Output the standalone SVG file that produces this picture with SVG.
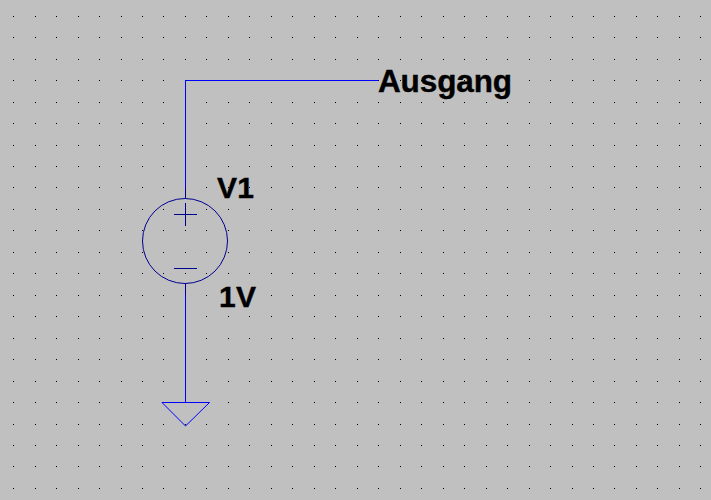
<svg xmlns="http://www.w3.org/2000/svg" width="711" height="500" viewBox="0 0 711 500">
<style>
.wire{fill:none;stroke:#0000ff;stroke-width:1;shape-rendering:crispEdges}
.sym{fill:none;stroke:#000090;stroke-width:1}
.crisp{shape-rendering:crispEdges}
.gnd{fill:none;stroke:#0000ff;stroke-width:1}
text{font-family:"Liberation Sans",Arial,sans-serif;font-weight:bold;font-size:30px;fill:#000;stroke:#000;stroke-width:.4}
</style>
<defs>
<path id="row" class="crisp" fill="#000" d="M13 16h1v1h-1zM35 16h1v1h-1zM56 16h1v1h-1zM78 16h1v1h-1zM99 16h1v1h-1zM121 16h1v1h-1zM142 16h1v1h-1zM163 16h1v1h-1zM185 16h1v1h-1zM206 16h1v1h-1zM228 16h1v1h-1zM249 16h1v1h-1zM271 16h1v1h-1zM292 16h1v1h-1zM314 16h1v1h-1zM335 16h1v1h-1zM357 16h1v1h-1zM378 16h1v1h-1zM400 16h1v1h-1zM421 16h1v1h-1zM443 16h1v1h-1zM464 16h1v1h-1zM486 16h1v1h-1zM507 16h1v1h-1zM529 16h1v1h-1zM550 16h1v1h-1zM572 16h1v1h-1zM593 16h1v1h-1zM614 16h1v1h-1zM636 16h1v1h-1zM657 16h1v1h-1zM679 16h1v1h-1zM700 16h1v1h-1z"/>
</defs>
<rect width="711" height="500" fill="#c0c0c0"/>
<g id="grid">
<use href="#row" y="0"/><use href="#row" y="21"/><use href="#row" y="43"/><use href="#row" y="64"/><use href="#row" y="86"/><use href="#row" y="107"/><use href="#row" y="129"/><use href="#row" y="150"/><use href="#row" y="171"/><use href="#row" y="193"/><use href="#row" y="214"/><use href="#row" y="236"/><use href="#row" y="257"/><use href="#row" y="279"/><use href="#row" y="300"/><use href="#row" y="322"/><use href="#row" y="343"/><use href="#row" y="365"/><use href="#row" y="386"/><use href="#row" y="408"/><use href="#row" y="429"/><use href="#row" y="450"/><use href="#row" y="472"/>
</g>
<g id="connectors">
<path class="wire" d="M378 80.5H185.5V188"/>
<path class="wire" d="M185.5 295V402"/>
</g>
<g id="V1">
<path class="sym crisp" d="M185.5 188V198M185.5 284V295"/>
<circle class="sym" cx="185" cy="241" r="42.5"/>
<path class="sym crisp" d="M174 214.5H197M185.5 203V226M174 268.5H197"/>
<text x="217" y="198" textLength="37">V1</text>
<text x="219" y="307" textLength="37">1V</text>
</g>
<g id="ground">
<path class="gnd" d="M162 402.5H209.5L185.5 426Z"/>
</g>
<g id="Ausgang">
<text x="378" y="92" font-size="31.5" style="font-size:31.5px" textLength="134">Ausgang</text>
</g>
</svg>
